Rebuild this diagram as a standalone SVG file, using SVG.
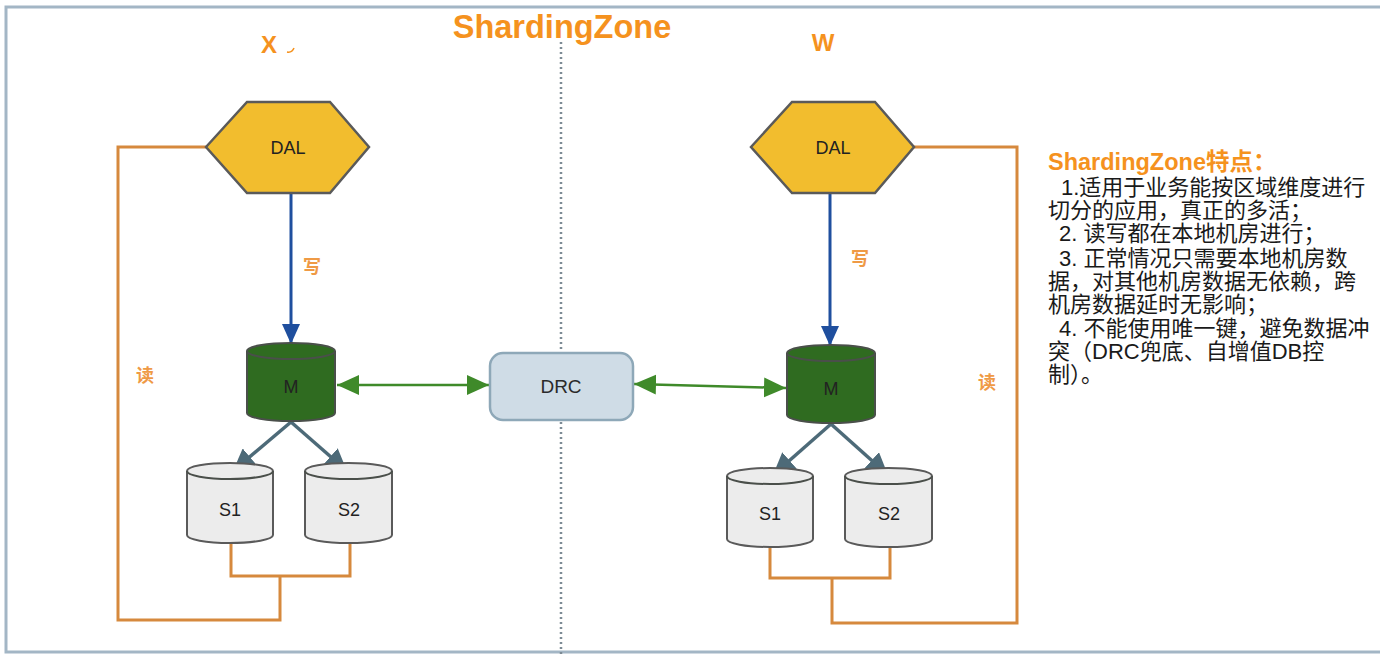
<svg xmlns="http://www.w3.org/2000/svg" width="1380" height="654" viewBox="0 0 1380 654">
<defs>
<style>
.t{font-family:"Liberation Sans","Noto Sans CJK SC",sans-serif;}
.ttl{font-weight:bold;fill:#f5921e;}
.lbl{font-size:18px;fill:#222;text-anchor:middle;}
.note{font-size:22px;fill:#1a1a1a;}
.ol{fill:none;stroke:#d6893d;stroke-width:3;stroke-linejoin:miter;}
.rw{font-size:18px;fill:#ef9a45;font-weight:bold;text-anchor:middle;}
.hex{fill:#f2bd2e;stroke:#5a5a5a;stroke-width:2.5;}
.mdb{fill:#2f6b20;stroke:#4a4f4a;stroke-width:2;}
.sdb{fill:#ececec;stroke:#5a5a5a;stroke-width:2;}
.rim{fill:none;stroke:#4a4f4a;stroke-width:2;}
.blue{stroke:#1f4f9e;stroke-width:3;fill:none;}
.slate{stroke:#4d6a78;stroke-width:3.5;fill:none;}
.green{stroke:#3f8a2a;stroke-width:2.5;fill:none;}
</style>
<marker id="ab" viewBox="0 0 20 20" refX="20" refY="10" markerWidth="20" markerHeight="20" markerUnits="userSpaceOnUse" orient="auto"><path d="M0,1 L20,10 L0,19 Z" fill="#1f4f9e"/></marker>
<marker id="as" viewBox="0 0 20 20" refX="20" refY="10" markerWidth="22" markerHeight="22" markerUnits="userSpaceOnUse" orient="auto"><path d="M0,0 L20,10 L0,20 Z" fill="#4d6a78"/></marker>
<marker id="ag" viewBox="0 0 20 20" refX="20" refY="10" markerWidth="22" markerHeight="22" markerUnits="userSpaceOnUse" orient="auto-start-reverse"><path d="M0,1 L20,10 L0,19 Z" fill="#3f8a2a"/></marker>
</defs>
<rect x="0" y="0" width="1380" height="654" fill="#ffffff"/>
<rect x="6" y="7" width="1400" height="645" fill="#ffffff" stroke="#a3b6c5" stroke-width="3"/>
<line x1="561" y1="42" x2="561" y2="654" stroke="#7d8b95" stroke-width="2.5" stroke-dasharray="2,3"/>

<g id="titles">
<text class="t ttl" x="562" y="38" font-size="32.5" text-anchor="middle">ShardingZone</text>
<text class="t ttl" x="269" y="53" font-size="24" text-anchor="middle">X</text>
<path d="M287,52 q5,1 7,-4" fill="none" stroke="#f5921e" stroke-width="1.5"/>
<text class="t ttl" x="823" y="51" font-size="24" text-anchor="middle">W</text>
</g>

<g id="connectors">
<polyline class="ol" points="206,147 118,147 118,620 280,620 280,576"/>
<polyline class="ol" points="231,543 231,576 350,576 350,543"/>
<polyline class="ol" points="914,147 1017,147 1017,623 832,623 832,578"/>
<polyline class="ol" points="770,547 770,578 890,578 890,547"/>
<line class="blue" x1="291" y1="194" x2="291" y2="344" marker-end="url(#ab)"/>
<line class="blue" x1="830" y1="194" x2="830" y2="346" marker-end="url(#ab)"/>
<line class="slate" x1="291" y1="422" x2="233" y2="471" marker-end="url(#as)"/>
<line class="slate" x1="291" y1="422" x2="347" y2="471" marker-end="url(#as)"/>
<line class="slate" x1="831" y1="424" x2="773" y2="475" marker-end="url(#as)"/>
<line class="slate" x1="831" y1="424" x2="888" y2="475" marker-end="url(#as)"/>
<line class="green" x1="337" y1="385" x2="489" y2="385" marker-start="url(#ag)" marker-end="url(#ag)"/>
<line class="green" x1="634" y1="384" x2="786" y2="388" marker-start="url(#ag)" marker-end="url(#ag)"/>
<text class="t rw" x="312" y="273">写</text>
<text class="t rw" x="860" y="265">写</text>
<text class="t rw" x="145" y="382">读</text>
<text class="t rw" x="987" y="389">读</text>
</g>

<g id="dal-x">
<polygon class="hex" points="206,147 247,102 330,102 369,147 330,193 247,193"/>
<text class="t lbl" x="288" y="154">DAL</text>
</g>
<g id="dal-w">
<polygon class="hex" points="751,147 792,102 875,102 914,147 875,193 792,193"/>
<text class="t lbl" x="833" y="154">DAL</text>
</g>

<g id="m-x">
<path class="mdb" d="M247,351 A44,8 0 0 1 335,351 V413 A44,8 0 0 1 247,413 Z"/>
<path class="rim" d="M247,351 A44,8 0 0 0 335,351"/>
<text class="t lbl" x="291" y="393">M</text>
</g>
<g id="m-w">
<path class="mdb" d="M787,353 A44,8 0 0 1 875,353 V415 A44,8 0 0 1 787,415 Z"/>
<path class="rim" d="M787,353 A44,8 0 0 0 875,353"/>
<text class="t lbl" x="831" y="395">M</text>
</g>

<g id="s1-x">
<path class="sdb" d="M187,471 A43,8 0 0 1 273,471 V535 A43,8 0 0 1 187,535 Z"/>
<path class="rim" d="M187,471 A43,8 0 0 0 273,471" stroke="#5a5a5a"/>
<text class="t lbl" x="230" y="516">S1</text>
</g>
<g id="s2-x">
<path class="sdb" d="M305,471 A43.5,8 0 0 1 392,471 V535 A43.5,8 0 0 1 305,535 Z"/>
<path class="rim" d="M305,471 A43.5,8 0 0 0 392,471" stroke="#5a5a5a"/>
<text class="t lbl" x="349" y="516">S2</text>
</g>
<g id="s1-w">
<path class="sdb" d="M727,476 A43,8 0 0 1 813,476 V539 A43,8 0 0 1 727,539 Z"/>
<path class="rim" d="M727,476 A43,8 0 0 0 813,476" stroke="#5a5a5a"/>
<text class="t lbl" x="770" y="520">S1</text>
</g>
<g id="s2-w">
<path class="sdb" d="M845,476 A43.5,8 0 0 1 932,476 V539 A43.5,8 0 0 1 845,539 Z"/>
<path class="rim" d="M845,476 A43.5,8 0 0 0 932,476" stroke="#5a5a5a"/>
<text class="t lbl" x="889" y="520">S2</text>
</g>

<g id="drc">
<rect x="490" y="353" width="143" height="67" rx="13" fill="#cfdce6" stroke="#8ea8b8" stroke-width="2.5"/>
<text class="t" x="561" y="393" font-size="19" fill="#2a2a2a" text-anchor="middle">DRC</text>
</g>

<g id="notes">
<text class="t ttl" x="1048" y="170" font-size="23.5">ShardingZone特点：</text>
<text class="t note" x="1061" y="195">1.适用于业务能按区域维度进行</text>
<text class="t note" x="1048" y="218">切分的应用，真正的多活；</text>
<text class="t note" x="1059" y="241">2. 读写都在本地机房进行；</text>
<text class="t note" x="1059" y="266">3. 正常情况只需要本地机房数</text>
<text class="t note" x="1048" y="289">据，对其他机房数据无依赖，跨</text>
<text class="t note" x="1048" y="312">机房数据延时无影响；</text>
<text class="t note" x="1059" y="336">4. 不能使用唯一键，避免数据冲</text>
<text class="t note" x="1048" y="359">突（DRC兜底、自增值DB控</text>
<text class="t note" x="1048" y="382">制）。</text>
</g>
</svg>
